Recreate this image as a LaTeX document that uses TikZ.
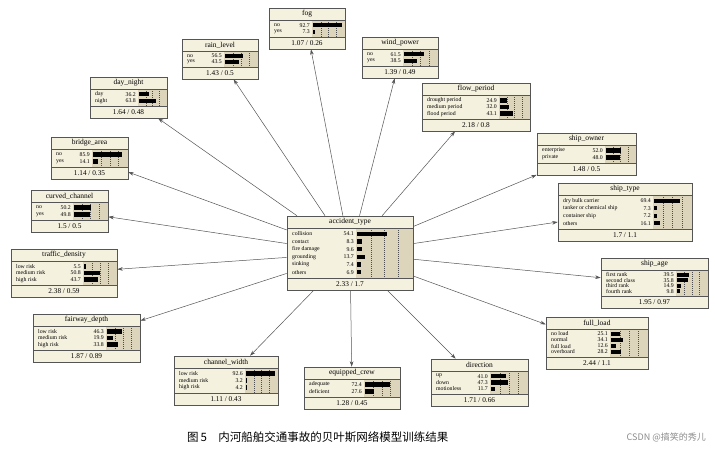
\documentclass[tikz,border=0pt]{standalone}
\usepackage{fontspec}
\setmainfont{Liberation Serif}
\newfontfamily\cjk{Noto Sans CJK SC}
\usetikzlibrary{arrows.meta,fit}
\definecolor{boxfill}{HTML}{F5F1DF}
\definecolor{barfill}{HTML}{DCD5BB}
\definecolor{bordc}{HTML}{555555}
\definecolor{linec}{HTML}{555555}
\tikzset{
  ttl/.style={inner sep=0, font=\fontsize{7.5}{8}\selectfont},
  ftr/.style={inner sep=0, font=\fontsize{7.3}{8}\selectfont},
  rowlab/.style={inner sep=0, font=\fontsize{5.8}{6}\selectfont},
  rowval/.style={inner sep=0, font=\fontsize{5.8}{6}\selectfont},
  sepline/.style={draw=bordc, line width=0.6pt},
  gridl/.style={draw=black!70, line width=0.3pt, dash pattern=on 0.8pt off 1.2pt},
  bnarrow/.style={draw=linec, line width=0.5pt, -{Stealth[length=5.5pt,width=3.6pt]}},
}
\newcommand\bnbox[9]{%
  \fill[boxfill] (#2,#3) rectangle (#4,#5);
  \pgfmathsetmacro\tl{#3+12}%
  \pgfmathsetmacro\fl{#5-12}%
  \fill[barfill] (#6,\tl) rectangle (#4,\fl);
  \pgfmathsetmacro\bw{#4-#6-2}%
  \foreach \q in {0.25,0.5,0.75} {\draw[gridl] ({#6+1+\q*\bw},\tl) -- ({#6+1+\q*\bw},\fl);}
  \foreach \lab/\val [count=\c] in {#9} {\xdef\nrows{\c}}
  \pgfmathsetmacro\rh{(\fl-\tl-4)/\nrows}%
  \foreach \lab/\val [count=\c] in {#9} {
     \pgfmathsetmacro\yy{\tl+2+(\c-0.5)*\rh}
     \node[rowlab, anchor=west] at (#2+5,\yy) {\lab};
     \node[rowval, anchor=east] at (#6-2,\yy) {\val};
     \fill[black] (#6+1,\yy-2.2) rectangle ++({\val/100*\bw},4.4);
  }
  \draw[sepline] (#2,\tl) -- (#4,\tl);
  \draw[sepline] (#2,\fl) -- (#4,\fl);
  \node[ttl] at ({(#2+#4)/2},{#3+6}) {#7};
  \node[ftr] at ({(#2+#4)/2},{#5-6}) {#8};
  \node[draw=bordc, line width=0.6pt, inner sep=0, fit={(#2,#3)(#4,#5)}] (#1) {};
}
\begin{document}
\begin{tikzpicture}[x=1pt,y=-1pt]
\useasboundingbox[fill=white] (0,0) rectangle (715,451);
\bnbox{fog}{269}{8}{345}{49}{312}{fog}{1.07 / 0.26}{no/92.7,yes/7.3}
\bnbox{wind}{362}{37}{438}{78}{403}{wind\_power}{1.39 / 0.49}{no/61.5,yes/38.5}
\bnbox{rain}{182}{39}{258}{79}{224}{rain\_level}{1.43 / 0.5}{no/56.5,yes/43.5}
\bnbox{day}{90}{77}{167}{118}{138}{day\_night}{1.64 / 0.48}{day/36.2,night/63.8}
\bnbox{flow}{422}{83}{530}{131}{499}{flow\_period}{2.18 / 0.8}{drought period/24.9,medium period/32.0,flood period/43.1}
\bnbox{bridge}{51}{137}{128}{179}{92}{bridge\_area}{1.14 / 0.35}{no/85.9,yes/14.1}
\bnbox{owner}{537}{133}{636}{175}{605}{ship\_owner}{1.48 / 0.5}{enterprise/52.0,private/48.0}
\bnbox{stype}{558}{183}{692}{241}{653}{ship\_type}{1.7 / 1.1}{dry bulk carrier/69.4,tanker or chemical ship/7.3,container ship/7.2,others/16.1}
\bnbox{curved}{31}{190}{108}{232}{73}{curved\_channel}{1.5 / 0.5}{no/50.2,yes/49.8}
\bnbox{acc}{287}{216}{413}{290}{356}{accident\_type}{2.33 / 1.7}{collision/54.1,contact/8.3,fire damage/9.6,grounding/13.7,sinking/7.4,others/6.9}
\bnbox{traffic}{11}{249}{117}{297}{83}{traffic\_density}{2.38 / 0.59}{low risk/5.5,medium risk/50.8,high risk/43.7}
\bnbox{age}{601}{258}{708}{308}{676}{ship\_age}{1.95 / 0.97}{first rank/39.5,second class/35.8,third rank/14.9,fourth rank/9.8}
\bnbox{fairway}{33}{314}{140}{362}{106}{fairway\_depth}{1.87 / 0.89}{low risk/46.3,medium risk/19.9,high risk/33.8}
\bnbox{load}{546}{317}{648}{369}{610}{full\_load}{2.44 / 1.1}{no load/25.1,normal/34.1,full load/12.6,overboard/28.2}
\bnbox{width}{174}{356}{278}{405}{245}{channel\_width}{1.11 / 0.43}{low risk/92.6,medium risk/3.2,high risk/4.2}
\bnbox{crew}{304}{367}{400}{409}{364}{equipped\_crew}{1.28 / 0.45}{adequate/72.4,deficient/27.6}
\bnbox{dir}{431}{359}{528}{406}{490}{direction}{1.71 / 0.66}{up/41.0,down/47.3,motionless/11.7}
\foreach \t in {fog,wind,rain,day,flow,bridge,owner,stype,curved,traffic,age,fairway,load,width,crew,dir}
  {\draw[bnarrow] (acc) -- (\t);}
\node[inner sep=0, anchor=west, font=\cjk\fontsize{11.5}{12}\selectfont] (cap) at (187,437) {图\,5\quad 内河船舶交通事故的贝叶斯网络模型训练结果};
\node[inner sep=0, anchor=east, text=black!45, font=\cjk\fontsize{9}{10}\selectfont] (wm) at (706,437) {CSDN @搞笑的秀儿};
\end{tikzpicture}
\end{document}
